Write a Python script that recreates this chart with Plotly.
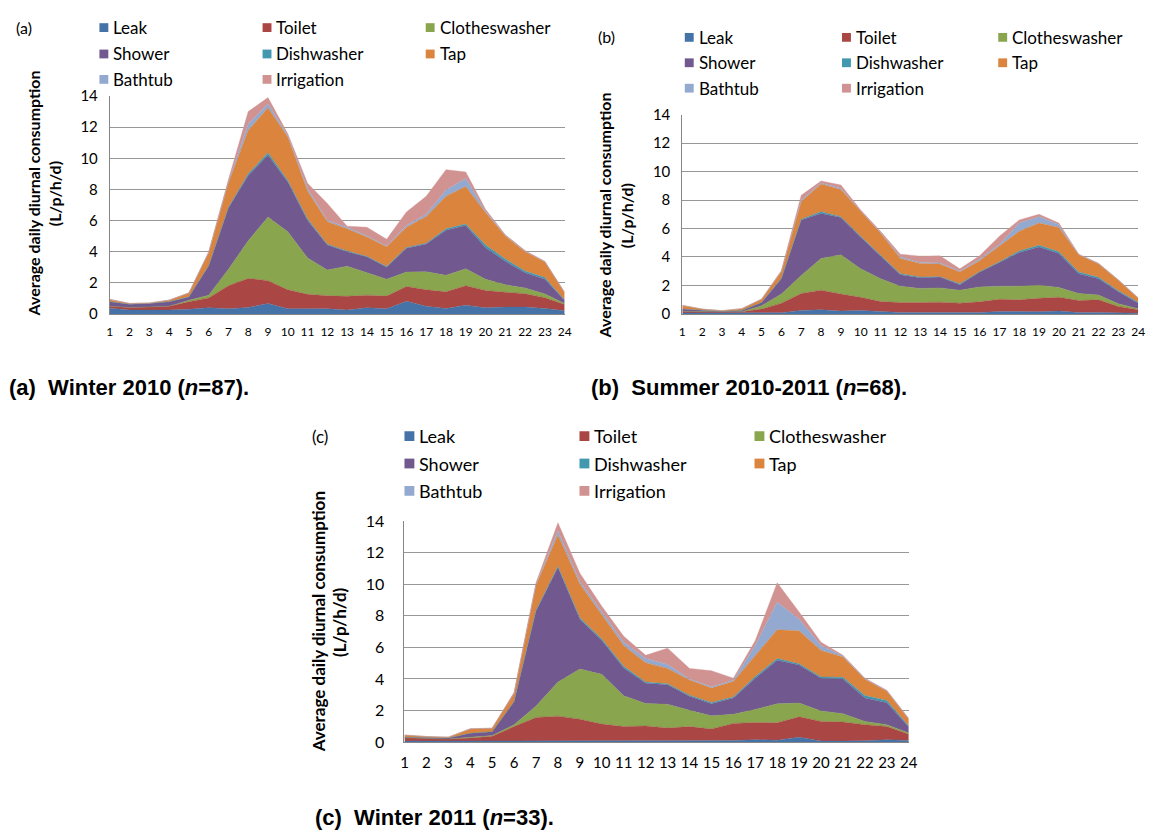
import plotly.graph_objects as go

W, H = 1162, 840
hours = list(range(1, 25))
series_names = ["Leak", "Toilet", "Clotheswasher", "Shower", "Dishwasher", "Tap", "Bathtub", "Irrigation"]
colors = ["#4572A7", "#AA4643", "#89A54E", "#71588F", "#4198AF", "#DB843D", "#93A9CF", "#D19392"]

# ---------------- Panel (a) Winter 2010 ----------------
a_leak = [0.36, 0.25, 0.25, 0.25, 0.30, 0.40, 0.34, 0.42, 0.67, 0.34, 0.34, 0.33, 0.25, 0.40, 0.33, 0.81, 0.50, 0.35, 0.56, 0.40, 0.44, 0.44, 0.35, 0.20]
a_toilet = [0.14, 0.17, 0.20, 0.25, 0.48, 0.63, 1.48, 1.86, 1.47, 1.21, 0.92, 0.84, 0.88, 0.81, 0.82, 0.96, 1.05, 1.07, 1.26, 1.10, 0.96, 0.86, 0.69, 0.40]
a_clothes = [0.00, 0.00, 0.00, 0.00, 0.10, 0.17, 1.05, 2.42, 4.09, 3.73, 2.34, 1.65, 1.94, 1.42, 1.08, 0.92, 1.16, 1.06, 1.08, 0.73, 0.48, 0.37, 0.25, 0.07]
a_shower = [0.28, 0.21, 0.22, 0.28, 0.21, 1.88, 3.93, 4.20, 3.97, 3.19, 2.40, 1.61, 0.93, 1.04, 0.77, 1.53, 1.79, 2.89, 2.78, 2.03, 1.50, 0.98, 0.94, 0.20]
a_dish = [0.00, 0.00, 0.00, 0.00, 0.01, 0.02, 0.05, 0.10, 0.16, 0.10, 0.10, 0.05, 0.05, 0.03, 0.05, 0.05, 0.05, 0.10, 0.10, 0.17, 0.15, 0.11, 0.11, 0.03]
a_tap = [0.14, 0.04, 0.03, 0.10, 0.24, 0.82, 1.58, 2.80, 2.89, 2.79, 1.80, 1.45, 1.42, 1.25, 1.27, 1.30, 1.71, 2.09, 2.40, 2.08, 1.47, 1.24, 1.00, 0.45]
a_bath = [0.00, 0.00, 0.00, 0.00, 0.00, 0.03, 0.10, 0.40, 0.25, 0.11, 0.15, 0.07, 0.10, 0.05, 0.04, 0.11, 0.14, 0.41, 0.52, 0.09, 0.05, 0.03, 0.02, 0.02]
a_irr = [0.03, 0.01, 0.01, 0.02, 0.02, 0.05, 0.10, 0.80, 0.40, 0.10, 0.35, 1.10, 0.07, 0.57, 0.44, 0.87, 1.16, 1.30, 0.42, 0.12, 0.04, 0.04, 0.02, 0.03]

# ---------------- Panel (b) Summer 2010-2011 ----------------
b_leak = [0.07, 0.07, 0.07, 0.07, 0.07, 0.09, 0.25, 0.30, 0.20, 0.25, 0.18, 0.11, 0.11, 0.11, 0.09, 0.11, 0.18, 0.16, 0.16, 0.20, 0.11, 0.11, 0.07, 0.05]
b_toilet = [0.11, 0.09, 0.07, 0.09, 0.27, 0.67, 1.19, 1.37, 1.20, 0.92, 0.69, 0.69, 0.69, 0.72, 0.67, 0.74, 0.85, 0.83, 0.94, 0.97, 0.83, 0.88, 0.46, 0.25]
b_clothes = [0.00, 0.00, 0.00, 0.00, 0.23, 0.64, 1.26, 2.23, 2.75, 2.00, 1.61, 1.15, 0.99, 1.00, 0.91, 1.05, 0.92, 0.96, 0.92, 0.69, 0.50, 0.34, 0.18, 0.07]
b_shower = [0.16, 0.09, 0.04, 0.09, 0.23, 1.08, 3.90, 3.16, 2.62, 2.22, 1.60, 0.80, 0.76, 0.76, 0.39, 1.04, 1.67, 2.36, 2.68, 2.38, 1.38, 1.15, 0.85, 0.39]
b_dish = [0.00, 0.00, 0.00, 0.00, 0.00, 0.02, 0.05, 0.12, 0.06, 0.06, 0.06, 0.07, 0.05, 0.03, 0.06, 0.03, 0.04, 0.11, 0.12, 0.12, 0.12, 0.09, 0.07, 0.07]
b_tap = [0.26, 0.09, 0.05, 0.12, 0.23, 0.48, 1.25, 1.95, 1.91, 1.73, 1.55, 1.08, 0.95, 0.88, 0.82, 0.77, 1.11, 1.38, 1.56, 1.72, 1.21, 0.94, 0.73, 0.27]
b_bath = [0.00, 0.00, 0.00, 0.00, 0.00, 0.02, 0.10, 0.07, 0.09, 0.04, 0.03, 0.10, 0.07, 0.07, 0.06, 0.11, 0.11, 0.58, 0.45, 0.18, 0.03, 0.03, 0.02, 0.02]
b_irr = [0.00, 0.00, 0.00, 0.00, 0.02, 0.05, 0.33, 0.13, 0.23, 0.08, 0.08, 0.20, 0.44, 0.51, 0.17, 0.23, 0.58, 0.22, 0.17, 0.12, 0.02, 0.02, 0.02, 0.02]

# ---------------- Panel (c) Winter 2011 ----------------
c_leak = [0.06, 0.06, 0.06, 0.06, 0.06, 0.08, 0.08, 0.08, 0.08, 0.08, 0.08, 0.08, 0.06, 0.08, 0.06, 0.10, 0.15, 0.12, 0.31, 0.06, 0.06, 0.08, 0.15, 0.10]
c_toilet = [0.21, 0.17, 0.13, 0.19, 0.31, 0.90, 1.48, 1.56, 1.37, 1.06, 0.90, 0.94, 0.83, 0.90, 0.77, 1.08, 1.09, 1.10, 1.29, 1.25, 1.21, 1.02, 0.83, 0.40]
c_clothes = [0.00, 0.00, 0.00, 0.06, 0.04, 0.12, 0.72, 2.16, 3.18, 3.15, 1.95, 1.43, 1.50, 1.03, 0.83, 0.58, 0.83, 1.21, 0.87, 0.66, 0.53, 0.21, 0.12, 0.08]
c_shower = [0.04, 0.04, 0.06, 0.25, 0.25, 1.45, 6.02, 7.26, 3.15, 2.14, 1.76, 1.28, 1.24, 0.89, 0.77, 1.04, 1.98, 2.76, 2.41, 2.08, 2.20, 1.49, 1.39, 0.37]
c_dish = [0.00, 0.00, 0.00, 0.00, 0.00, 0.02, 0.06, 0.08, 0.10, 0.10, 0.11, 0.07, 0.06, 0.07, 0.08, 0.06, 0.10, 0.10, 0.08, 0.08, 0.10, 0.15, 0.14, 0.07]
c_tap = [0.13, 0.08, 0.06, 0.27, 0.21, 0.50, 1.60, 1.99, 2.14, 1.56, 1.32, 1.22, 0.98, 0.97, 0.91, 0.98, 1.35, 1.83, 2.09, 1.68, 1.29, 1.03, 0.59, 0.43]
c_bath = [0.00, 0.00, 0.00, 0.00, 0.00, 0.03, 0.06, 0.25, 0.15, 0.14, 0.21, 0.27, 0.25, 0.06, 0.08, 0.08, 0.62, 1.74, 0.73, 0.31, 0.06, 0.04, 0.03, 0.02]
c_irr = [0.00, 0.00, 0.00, 0.02, 0.02, 0.05, 0.08, 0.52, 0.53, 0.37, 0.37, 0.21, 1.03, 0.67, 1.02, 0.13, 0.31, 1.24, 0.46, 0.21, 0.05, 0.03, 0.03, 0.03]

y_ticks = [0, 2, 4, 6, 8, 10, 12, 14]
y_title_1 = "Average daily diurnal consumption"
y_title_2 = "(L/p/h/d)"

panels = [
    dict(key="", data=[a_leak, a_toilet, a_clothes, a_shower, a_dish, a_tap, a_bath, a_irr],
         label="(a)", caption="(a)  Winter 2010 (<i>n</i>=87).",
         px=(107, 567), py=(88, 311), xfont=12, yfont=15, ystand=8,
         ytitle_x=(30, 51), ytitle_y=188, tfont=16,
         tag_xy=(20, 18), leg_cols=(101, 266, 431), leg_rows=(18, 45, 71), leg_font=17, sq=9,
         cap_xy=(3, 386)),
    dict(key="2", data=[b_leak, b_toilet, b_clothes, b_shower, b_dish, b_tap, b_bath, b_irr],
         label="(b)", caption="(b)  Summer 2010-2011 (<i>n</i>=68).",
         px=(686, 1147), py=(107, 311), xfont=12, yfont=15, ystand=8,
         ytitle_x=(607, 629), ytitle_y=210, tfont=16,
         tag_xy=(609, 27), leg_cols=(693, 852, 1010), leg_rows=(28, 54, 80), leg_font=17, sq=9,
         cap_xy=(592, 386)),
    dict(key="3", data=[c_leak, c_toilet, c_clothes, c_shower, c_dish, c_tap, c_bath, c_irr],
         label="(c)", caption="(c)  Winter 2011 (<i>n</i>=33).",
         px=(405, 915), py=(523, 749), xfont=15, yfont=16, ystand=16,
         ytitle_x=(318, 340), ytitle_y=626, tfont=17,
         tag_xy=(320, 436), leg_cols=(410, 587, 764), leg_rows=(436, 464, 492), leg_font=18, sq=10,
         cap_xy=(313, 826)),
]

FONT = "Lato, Carlito, Calibri, sans-serif"
CAPFONT = "Liberation Sans, Arial, sans-serif"


def fx(x):
    return x / W


def fy(y):
    return 1 - y / H


fig = go.Figure()
annotations = []
shapes = []
layout = {}

for p in panels:
    k = p["key"]
    xref = "x" + k
    yref = "y" + k
    for name, vals, col in zip(series_names, p["data"], colors):
        fig.add_trace(go.Scatter(
            x=hours, y=vals, name=name, mode="lines", stackgroup="s" + (k or "1"),
            line=dict(width=0.4, color=col), fillcolor=col,
            xaxis=xref, yaxis=yref, showlegend=False, hoverinfo="x+y+name"))
    layout["xaxis" + k] = dict(
        domain=[fx(p["px"][0]), fx(p["px"][1])], anchor=yref, range=[1, 24],
        tickmode="array", tickvals=hours, ticktext=[str(h) for h in hours],
        showgrid=False, zeroline=False, showline=True, linecolor="#868686", linewidth=1,
        ticks="", ticklabelstandoff=7, tickfont=dict(family=FONT, size=p["xfont"], color="#000"),
        fixedrange=True)
    layout["yaxis" + k] = dict(
        domain=[fy(p["py"][1]), fy(p["py"][0])], anchor=xref, range=[0, 14],
        tickmode="array", tickvals=y_ticks, ticktext=[str(v) for v in y_ticks],
        showgrid=True, gridcolor="#979797", gridwidth=1, zeroline=False,
        showline=True, linecolor="#868686", linewidth=1, ticks="", ticklabelstandoff=p["ystand"],
        tickfont=dict(family=FONT, size=p["yfont"], color="#000"), fixedrange=True)

    # y-axis titles (two bold lines)
    for tx, txt in zip(p["ytitle_x"], [y_title_1, y_title_2]):
        annotations.append(dict(
            x=fx(tx), y=fy(p["ytitle_y"]), xref="paper", yref="paper",
            text="<b>" + txt + "</b>", textangle=-90, showarrow=False,
            xanchor="center", yanchor="middle",
            font=dict(family=FONT, size=p["tfont"], color="#000")))

    # panel tag
    annotations.append(dict(
        x=fx(p["tag_xy"][0]), y=fy(p["tag_xy"][1]), xref="paper", yref="paper",
        text=p["label"], showarrow=False, xanchor="center", yanchor="middle",
        font=dict(family=FONT, size=p["leg_font"] - 1, color="#000")))

    # legend (3 columns, row-major)
    for i, (name, col) in enumerate(zip(series_names, colors)):
        r, c = divmod(i, 3)
        cx = p["leg_cols"][c]
        cy = p["leg_rows"][r]
        s = p["sq"]
        shapes.append(dict(
            type="rect", xref="paper", yref="paper",
            x0=fx(cx - s / 2), x1=fx(cx + s / 2), y0=fy(cy + s / 2), y1=fy(cy - s / 2),
            fillcolor=col, line=dict(width=0)))
        annotations.append(dict(
            x=fx(cx + s / 2 + 3), y=fy(cy), xref="paper", yref="paper",
            text=name, showarrow=False, xanchor="left", yanchor="middle",
            font=dict(family=FONT, size=p["leg_font"], color="#000")))

    # caption
    annotations.append(dict(
        x=fx(p["cap_xy"][0]), y=fy(p["cap_xy"][1]), xref="paper", yref="paper",
        text="<b>" + p["caption"] + "</b>", showarrow=False, xanchor="left", yanchor="middle",
        font=dict(family=CAPFONT, size=22, color="#000")))

fig.update_layout(
    width=W, height=H, margin=dict(l=0, r=0, t=0, b=0),
    paper_bgcolor="white", plot_bgcolor="white",
    annotations=annotations, shapes=shapes, showlegend=False,
    **layout)

fig.write_html("out.html", config={"displayModeBar": False},
               post_script="document.body.style.margin='0';")
